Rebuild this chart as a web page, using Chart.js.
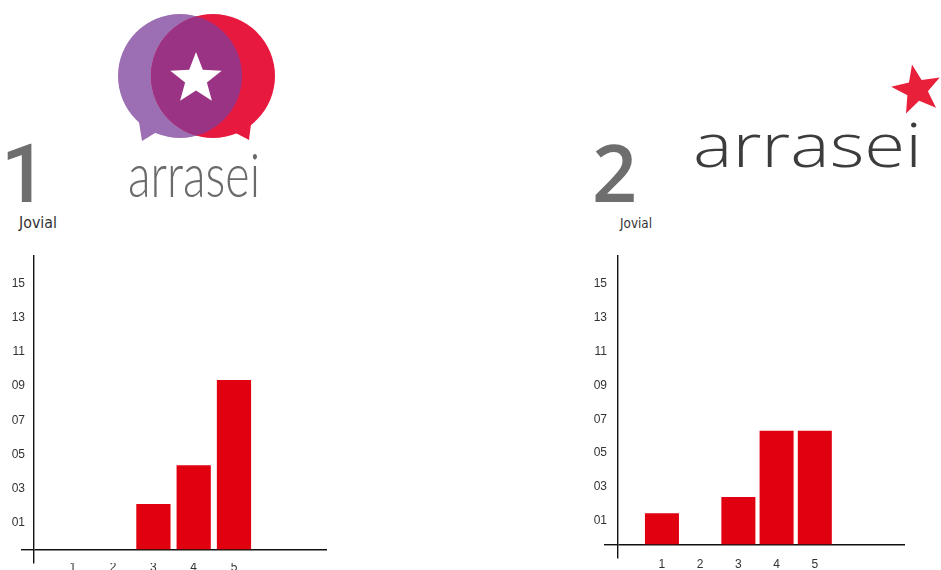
<!DOCTYPE html>
<html><head><meta charset="utf-8">
<script src="https://cdn.jsdelivr.net/npm/chart.js@4"></script>
<style>
html,body{margin:0;padding:0;background:#fff;width:941px;height:570px;overflow:hidden;position:relative}
#deco{position:absolute;left:0;top:0}
.box{position:absolute;top:240px;width:340px;height:330px}
#b1{left:0}
#b2{left:580px}
</style></head><body>
<svg id="deco" width="941" height="240" xmlns="http://www.w3.org/2000/svg">
  <defs><clipPath id="pc"><circle cx="180" cy="76" r="62"/></clipPath></defs>
  <polygon points="138,116 160,130 142,141" fill="#9c6fb4"/>
  <polygon points="252,116 230,130 249,140" fill="#e8193f"/>
  <circle cx="180" cy="76" r="62" fill="#9c6fb4"/>
  <circle cx="213" cy="76" r="62" fill="#e8193f"/>
  <circle cx="213" cy="76" r="62" fill="#9a3383" clip-path="url(#pc)"/>
  <polygon id="star1" fill="#ffffff"/>
  <text x="128" y="197" font-family="Lato" font-weight="300" font-size="62" fill="#6a6a6a" textLength="132" lengthAdjust="spacingAndGlyphs">arrasei</text>
  <text x="24" y="202" text-anchor="middle" font-family="Roboto" font-weight="500" font-size="81" fill="#6e6e6e">1</text>
  <text x="19" y="228" font-family="DejaVu Sans" font-size="15" fill="#333" textLength="38" lengthAdjust="spacingAndGlyphs">Jovial</text>

  <polygon id="star2" fill="#e8203a"/>
  <text x="693" y="167" font-family="Open Sans" font-weight="300" font-size="60" fill="#3c3c3c" textLength="229" lengthAdjust="spacingAndGlyphs">arrasei</text>
  <text x="614.5" y="202" text-anchor="middle" font-family="Open Sans" font-weight="600" font-size="79" fill="#6e6e6e">2</text>
  <text x="620" y="228" font-family="DejaVu Sans" font-size="14" fill="#333" textLength="32" lengthAdjust="spacingAndGlyphs">Jovial</text>
</svg>
<div class="box" id="b1"><canvas id="c1" width="340" height="330"></canvas></div>
<div class="box" id="b2"><canvas id="c2" width="340" height="330"></canvas></div>
<script>
// ---- data ----
const xCategories = [1, 2, 3, 4, 5];
const xTickLabels = ['1', '2', '3', '4', '5'];
const yTickValues = [1, 3, 5, 7, 9, 11, 13, 15];
const yTickLabels = ['01', '03', '05', '07', '09', '11', '13', '15'];
const chart1Values = [0, 0, 2.69, 4.95, 9.94];
const chart2Values = [1.87, 0, 2.83, 6.74, 6.74];

// ---- logo stars (decoration) ----
function starPoints(cx, cy, R, r, rotDeg) {
  const pts = [];
  for (let i = 0; i < 10; i++) {
    const a = (rotDeg + i * 36) * Math.PI / 180;
    const rad = i % 2 === 0 ? R : r;
    pts.push((cx + rad * Math.sin(a)).toFixed(1) + ',' + (cy - rad * Math.cos(a)).toFixed(1));
  }
  return pts.join(' ');
}
document.getElementById('star1').setAttribute('points', starPoints(196, 79, 27, 11.5, 0));
document.getElementById('star2').setAttribute('points', starPoints(917, 90, 26, 11, -11));

const tickFont = { family: "'Liberation Sans Narrow', 'Liberation Sans', sans-serif", size: 12 };
const axisColor = '#111';

function makeChart(id, values, o) {
  new Chart(document.getElementById(id), {
    type: 'bar',
    data: {
      datasets: [{
        data: xCategories.map((c, i) => ({ x: c, y: values[i] })),
        backgroundColor: '#e1000f',
        borderWidth: 0,
        barPercentage: 1,
        categoryPercentage: o.cat
      }]
    },
    options: {
      responsive: false,
      animation: false,
      layout: { padding: { left: 0, top: o.top, right: o.right, bottom: 0 } },
      plugins: { legend: { display: false }, tooltip: { enabled: false }, title: { display: false } },
      scales: {
        x: {
          type: 'linear', offset: false, min: o.xmin, max: o.xmax,
          grid: { display: false }, border: { display: false },
          afterBuildTicks: s => { s.ticks = xCategories.map(v => ({ value: v })); },
          afterFit: s => { s.height = o.xh; },
          ticks: {
            padding: o.xpad, autoSkip: false, maxRotation: 0, color: '#333', font: tickFont,
            callback: v => { const i = xCategories.indexOf(v); return i < 0 ? '' : xTickLabels[i]; }
          }
        },
        y: {
          min: o.ymin, max: o.ymax,
          afterBuildTicks: s => { s.ticks = [0].concat(yTickValues).map(v => ({ value: v })); },
          afterFit: s => { s.width = o.yw; },
          grid: {
            drawTicks: true, tickLength: o.tl, lineWidth: 1.4, tickWidth: 1.4,
            color: c => (c.tick && c.tick.value === 0) ? axisColor : 'rgba(0,0,0,0)',
            tickColor: c => (c.tick && c.tick.value === 0) ? axisColor : 'rgba(0,0,0,0)'
          },
          border: { display: true, color: axisColor, width: 1.4 },
          ticks: {
            padding: o.ypad, labelOffset: o.lo, autoSkip: false, color: '#333', font: tickFont,
            callback: v => { const i = yTickValues.indexOf(v); return i < 0 ? '' : yTickLabels[i]; }
          }
        }
      }
    }
  });
}

makeChart('c1', chart1Values, {
  cat: 0.85, top: 16, right: 13, xmin: 0.035, xmax: 7.31, xh: 7, xpad: -11,
  ymin: -0.76, ymax: 17.19, yw: 34, tl: 13, ypad: -4, lo: -10
});
makeChart('c2', chart2Values, {
  cat: 0.89, top: 16, right: 15, xmin: -0.15, xmax: 7.36, xh: 12, xpad: -9,
  ymin: -0.77, ymax: 17.04, yw: 38, tl: 14, ypad: -3, lo: -7
});
</script>
</body></html>
